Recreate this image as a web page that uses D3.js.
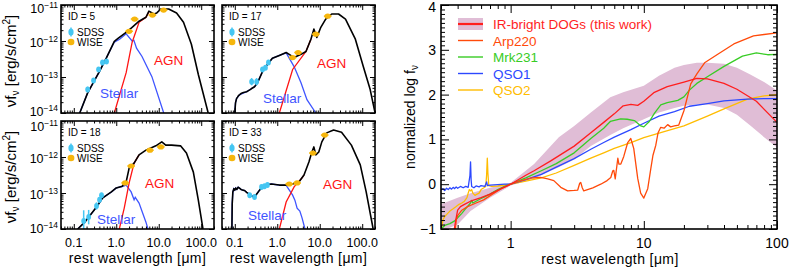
<!DOCTYPE html>
<html><head><meta charset="utf-8">
<script src="https://cdn.jsdelivr.net/npm/d3@7"></script>
<style>
body{margin:0;background:#fff;}
svg text{font-family:"Liberation Sans",Arial,Helvetica,sans-serif;}
</style></head><body>
<svg id="c" width="789" height="269"></svg>
<script>
// ---------------- DATA (left: [rest wavelength um, log10 nuFnu erg/s/cm2]) ----------------
const sed5Total   = [[0.138,-14.0],[0.212,-13.44],[0.40,-12.85],[0.59,-12.46],[0.90,-12.01],[1.1,-11.93],[1.71,-11.76],[2.36,-11.62],[3.44,-11.45],[5.0,-11.34],[5.87,-11.17],[7.7,-11.25],[9.0,-11.22],[11.2,-11.11],[17.1,-11.11],[26.3,-11.22],[38.3,-11.48],[58.7,-12.09],[85.5,-12.93],[146,-14.0]];
const sed5Stellar = [[0.138,-14.0],[0.212,-13.44],[0.40,-12.85],[0.59,-12.46],[0.90,-12.03],[1.2,-11.95],[1.71,-11.8],[2.36,-12.0],[2.6,-11.98],[3.0,-12.2],[4.04,-12.43],[6.9,-12.99],[13.1,-14.0]];
const sed5Agn     = [[0.90,-14.0],[1.71,-12.88],[2.36,-12.04],[3.44,-11.48],[5.0,-11.34],[5.87,-11.2]];
const sed5Sdss    = [[0.212,-13.35],[0.292,-13.1],[0.383,-12.79],[0.474,-12.6],[0.59,-12.57]];
const sed5SdssErr = [0.08,0.07,0.06,0.06,0.05];
const sed5Wise    = [[2.0,-11.73],[2.7,-11.39],[7.1,-11.28],[13.0,-11.14]];

const sed17Total   = [[0.100,-14.0],[0.104,-13.72],[0.11,-13.6],[0.116,-13.56],[0.122,-13.52],[0.131,-13.49],[0.14,-13.46],[0.16,-13.43],[0.19,-13.41],[0.21,-13.38],[0.23,-13.35],[0.249,-13.32],[0.292,-13.27],[0.343,-13.16],[0.449,-12.85],[0.587,-12.65],[0.767,-12.48],[1.12,-12.4],[1.62,-12.32],[1.91,-12.37],[2.49,-12.46],[3.62,-12.37],[4.74,-12.29],[6.2,-11.95],[7.27,-11.67],[8.55,-11.9],[10.6,-11.62],[13.8,-11.39],[19.1,-11.25],[27.7,-11.25],[40.4,-11.39],[69,-11.95],[106,-12.71],[154,-13.35],[201,-14.0]];
const sed17Stellar = [[0.100,-14.0],[0.104,-13.72],[0.11,-13.6],[0.131,-13.49],[0.19,-13.41],[0.249,-13.32],[0.292,-13.27],[0.343,-13.16],[0.449,-12.85],[0.587,-12.65],[0.767,-12.48],[1.12,-12.4],[1.62,-12.33],[2.49,-12.71],[3.62,-13.16],[5.0,-13.63],[8.1,-14.0]];
const sed17Agn     = [[1.12,-14.0],[2.3,-12.79],[4.74,-12.29],[6.2,-11.95]];
const sed17Sdss    = [[0.249,-13.13],[0.326,-13.13],[0.449,-12.79],[0.527,-12.74],[0.62,-12.6]];
const sed17SdssErr = [0.1,0.1,0.07,0.06,0.05];
const sed17Wise    = [[2.3,-12.46],[3.09,-12.32],[8.1,-11.81],[15.4,-11.31]];

const sed18Total   = [[0.124,-14.0],[0.181,-13.81],[0.343,-13.39],[0.474,-13.14],[0.767,-12.97],[1.0,-12.86],[1.38,-12.81],[1.71,-12.69],[2.01,-12.31],[2.63,-12.17],[3.44,-11.94],[5.0,-11.81],[8.55,-11.69],[11.8,-11.58],[14.6,-11.67],[20.1,-11.67],[32.6,-11.69],[44.9,-11.89],[65.3,-12.42],[85.5,-13.2],[110,-14.0]];
const sed18Stellar = [[0.124,-14.0],[0.181,-13.81],[0.343,-13.39],[0.474,-13.14],[0.767,-12.97],[1.0,-12.86],[1.38,-12.82],[1.71,-12.78],[2.24,-12.97],[2.63,-13.19],[2.8,-13.12],[3.44,-13.28],[5.0,-13.81],[5.57,-14.0]];
const sed18Agn     = [[1.18,-14.0],[1.54,-13.42],[2.01,-12.72],[2.63,-12.17],[3.44,-11.94]];
const sed18Sdss    = [[0.171,-13.78],[0.224,-13.67],[0.343,-13.36],[0.404,-13.19],[0.45,-13.06]];
const sed18SdssErr = [0.3,0.2,0.1,0.08,0.06];
const sed18Wise    = [[1.62,-12.72],[2.24,-12.25],[6.2,-11.81],[11.2,-11.72]];

const sed33Total   = [[0.0855,-14.0],[0.087,-13.3],[0.090,-12.97],[0.095,-12.88],[0.1,-12.92],[0.105,-12.86],[0.112,-12.9],[0.12,-12.84],[0.131,-12.87],[0.14,-12.9],[0.154,-12.92],[0.17,-12.93],[0.19,-12.98],[0.22,-13.04],[0.249,-13.08],[0.292,-13.11],[0.383,-12.92],[0.5,-12.78],[0.728,-12.75],[1.12,-12.78],[1.62,-12.78],[2.3,-12.75],[3.26,-12.69],[4.26,-12.5],[5.56,-12.14],[6.53,-11.86],[7.27,-11.72],[8.1,-11.94],[9.5,-11.86],[11.2,-11.58],[14.6,-11.33],[21.2,-11.25],[32.6,-11.31],[55.6,-11.67],[90,-12.22],[124,-12.97],[181,-14.0]];
const sed33Stellar = [[0.0855,-14.0],[0.087,-13.3],[0.090,-12.97],[0.095,-12.88],[0.1,-12.92],[0.105,-12.86],[0.112,-12.9],[0.12,-12.84],[0.131,-12.87],[0.14,-12.9],[0.154,-12.92],[0.17,-12.93],[0.19,-12.98],[0.22,-13.04],[0.249,-13.08],[0.292,-13.11],[0.383,-12.92],[0.5,-12.78],[0.728,-12.75],[1.12,-12.78],[1.62,-12.79],[2.3,-13.06],[2.6,-13.2],[2.93,-13.42],[3.4,-13.5],[3.83,-13.69],[4.49,-14.0]];
const sed33Agn     = [[1.12,-14.0],[1.62,-13.25],[2.49,-12.83],[3.83,-12.58],[4.26,-12.5]];
const sed33Sdss    = [[0.224,-13.06],[0.292,-13.11],[0.426,-12.83],[0.5,-12.81],[0.587,-12.78]];
const sed33SdssErr = [0.06,0.06,0.05,0.05,0.05];
const sed33Wise    = [[1.91,-12.75],[2.93,-12.72],[6.9,-11.89],[13.1,-11.39]];

const sedXTicks      = [0.1, 1, 10, 100];
const sedXTickLabels = ["0.1", "1.0", "10.0", "100.0"];
const sedYTicks      = [1e-11, 1e-12, 1e-13, 1e-14];
const sedYTickExp    = ["\u221211", "\u221212", "\u221213", "\u221214"];
const wiseHalfWidthDex = 0.09;

// ---------------- DATA (right: [rest wavelength um, normalized log f_nu]) ----------------
const dogMean = [[0.375,-1.05],[0.39,-0.75],[0.40,-0.58],[0.42,-0.5],[0.45,-0.45],[0.5,-0.38],[0.6,-0.3],[0.7,-0.22],[0.85,-0.1],[1,0],[1.3,0.2],[1.5,0.3],[2,0.52],[3,0.85],[4,1.15],[5,1.38],[6,1.57],[7,1.75],[8,1.78],[9,1.76],[10,1.85],[12,2.05],[15,2.18],[20,2.28],[25,2.36],[30,2.35],[40,2.25],[50,2.12],[70,1.85],[100,1.38]];
const dogBandLam  = [0.3,0.4,0.5,0.7,1.0,1.5,2,2.3,3,4,5.6,7,10,13,17,20,25,30,40,50,63,80,100];
const dogBandLow  = [-1.05,-0.9,-0.6,-0.3,-0.03,0.12,0.3,0.38,0.55,0.85,1.1,1.25,1.45,1.6,1.7,1.75,1.78,1.78,1.7,1.55,1.31,1.05,0.82];
const dogBandHigh = [-0.45,-0.3,-0.2,-0.08,0.03,0.45,0.85,1.05,1.3,1.6,1.94,2.05,2.2,2.42,2.6,2.66,2.71,2.71,2.69,2.6,2.45,2.28,2.09];
const arp220 = [[0.37,-1.3],[0.386,-0.98],[0.39,-0.8],[0.40,-0.7],[0.43,-0.58],[0.475,-0.5],[0.55,-0.42],[0.627,-0.35],[0.75,-0.2],[0.85,-0.1],[1.0,0],[1.2,0.08],[1.45,0.14],[1.68,0.15],[1.9,0.12],[2.11,0.08],[2.38,-0.07],[2.68,-0.15],[3.0,-0.14],[3.19,-0.13],[3.3,0.02],[3.36,0.04],[3.45,-0.08],[3.54,-0.15],[4.14,-0.08],[4.75,0.0],[5.3,0.08],[5.65,0.15],[5.85,0.3],[5.95,0.31],[6.1,0.12],[6.38,0.58],[6.5,0.45],[6.72,0.45],[7.07,0.62],[7.57,0.93],[7.98,1.02],[8.4,0.8],[9.0,0.13],[9.47,-0.2],[10,-0.31],[10.7,-0.1],[11.3,0.36],[11.7,0.64],[12.3,0.87],[12.8,1.15],[13.4,1.27],[14.2,1.25],[15.1,1.33],[15.9,1.28],[17,1.3],[18.3,1.32],[20,1.64],[22.5,2.24],[25.1,2.47],[28.6,2.71],[35.9,2.9],[47.4,3.13],[66.6,3.31],[100,3.38]];
const mrk231 = [[0.3,-1.0],[0.32,-0.92],[0.35,-0.88],[0.38,-0.82],[0.40,-0.75],[0.43,-0.65],[0.45,-0.58],[0.48,-0.48],[0.5,-0.42],[0.51,-0.36],[0.52,-0.42],[0.55,-0.38],[0.6,-0.32],[0.65,-0.27],[0.7,-0.22],[0.8,-0.12],[0.9,-0.05],[1,0],[1.3,0.14],[1.7,0.3],[2.2,0.46],[3,0.7],[4,1.02],[5,1.25],[5.6,1.4],[6.7,1.46],[7.5,1.45],[8.5,1.42],[9.5,1.3],[10,1.28],[11,1.4],[12,1.58],[13.4,1.77],[15,1.82],[18,1.87],[20,1.95],[22,2.1],[25,2.25],[30,2.4],[40,2.63],[55,2.86],[70,2.93],[85,2.89],[100,2.9]];
const qso1 = [[0.3,-0.13],[0.31,-0.1],[0.32,-0.14],[0.33,-0.09],[0.34,-0.12],[0.35,-0.08],[0.36,-0.11],[0.37,-0.07],[0.38,-0.1],[0.39,-0.06],[0.40,-0.09],[0.42,-0.05],[0.44,-0.08],[0.46,-0.05],[0.48,-0.07],[0.495,0.2],[0.50,0.5],[0.505,0.1],[0.51,-0.05],[0.53,-0.08],[0.55,-0.04],[0.58,-0.06],[0.6,-0.03],[0.64,-0.05],[0.66,0.05],[0.67,-0.03],[0.7,-0.02],[0.8,-0.01],[0.9,0.0],[1.0,0.0],[1.3,0.1],[1.7,0.22],[2.2,0.38],[3.0,0.57],[4.0,0.78],[5.0,0.93],[6.0,1.05],[8,1.22],[10,1.36],[13,1.52],[17,1.62],[22,1.74],[30,1.8],[40,1.86],[60,1.9],[80,1.91],[100,1.91]];
const qso2 = [[0.3,-1.05],[0.31,-0.8],[0.32,-0.72],[0.33,-0.68],[0.35,-0.6],[0.37,-0.55],[0.39,-0.5],[0.41,-0.45],[0.43,-0.42],[0.45,-0.38],[0.47,-0.3],[0.48,-0.2],[0.49,-0.12],[0.50,-0.15],[0.51,-0.12],[0.52,-0.2],[0.54,-0.25],[0.56,-0.22],[0.58,-0.2],[0.6,-0.12],[0.63,-0.08],[0.65,-0.05],[0.66,0.2],[0.668,0.58],[0.675,0.25],[0.685,-0.03],[0.72,-0.05],[0.8,-0.04],[0.9,-0.02],[1.0,0],[1.3,0.07],[1.7,0.14],[2.2,0.25],[3,0.42],[4,0.58],[5,0.7],[6,0.8],[8,0.93],[10,1.04],[14,1.17],[20,1.3],[30,1.52],[40,1.68],[60,1.9],[80,1.97],[100,2.0]];

const specXTicks = [1, 10, 100];
const specYTicks = [-1, 0, 1, 2, 3, 4];
const legendNames = ["IR-bright DOGs (this work)", "Arp220", "Mrk231", "QSO1", "QSO2"];

// ---------------- STYLE ----------------
const C = {stellar:"#3f55ff", agn:"#ff1414", sdss:"#45c6f2", wise:"#f6b60c",
           dog:"#ff1e1e", band:"#e0bdd6", arp:"#ff4a0a", mrk:"#38cc25", q1:"#2c48ff", q2:"#ffbc00"};
const svg = d3.select("#c");
svg.append("rect").attr("width",789).attr("height",269).attr("fill","#fff");

function logTicks(lo, hi){
  const maj=[], min=[];
  for(let e=Math.floor(Math.log10(lo)); e<=Math.ceil(Math.log10(hi)); e++){
    for(let m=1;m<10;m++){ const v=+(m*Math.pow(10,e)).toPrecision(6);
      if(v<lo*0.9999||v>hi*1.0001) continue; (m===1?maj:min).push(v); }
  }
  return {maj,min};
}
function styleAxis(a){ a.select(".domain").remove(); a.selectAll("line").attr("stroke","#000").attr("stroke-width",1); a.selectAll("text").remove(); return a; }

// ---------------- SED PANELS ----------------
const panels = [
  {id:"5",  tot:sed5Total,  st:sed5Stellar,  agn:sed5Agn,  sdss:sed5Sdss,  err:sed5SdssErr,  wise:sed5Wise,  x0:61,  x1:214, y0:5,   y1:113, left:true,  bottom:false, agnPos:[154,65],  stPos:[100,98]},
  {id:"17", tot:sed17Total, st:sed17Stellar, agn:sed17Agn, sdss:sed17Sdss, err:sed17SdssErr, wise:sed17Wise, x0:222, x1:375, y0:5,   y1:113, left:false, bottom:false, agnPos:[317,68],  stPos:[263,103]},
  {id:"18", tot:sed18Total, st:sed18Stellar, agn:sed18Agn, sdss:sed18Sdss, err:sed18SdssErr, wise:sed18Wise, x0:61,  x1:214, y0:121, y1:229, left:true,  bottom:true,  agnPos:[145,188], stPos:[97,224]},
  {id:"33", tot:sed33Total, st:sed33Stellar, agn:sed33Agn, sdss:sed33Sdss, err:sed33SdssErr, wise:sed33Wise, x0:222, x1:375, y0:121, y1:229, left:false, bottom:true,  agnPos:[323,189], stPos:[248,220]}
];
const sedXT = logTicks(0.05, 200), sedYT = logTicks(1e-14, 1e-11);

panels.forEach((p,i)=>{
  const x = d3.scaleLog().domain([0.05,200]).range([p.x0,p.x1]);
  const y = d3.scaleLog().domain([1e-14,1e-11]).range([p.y1,p.y0]);
  const g = svg.append("g");
  const cid = "clip"+i;
  g.append("clipPath").attr("id",cid).append("rect").attr("x",p.x0).attr("y",p.y0).attr("width",p.x1-p.x0).attr("height",p.y1-p.y0);
  const line = d3.line().x(d=>x(d[0])).y(d=>y(Math.pow(10,d[1])));
  const cg = g.append("g").attr("clip-path",`url(#${cid})`);
  cg.append("path").attr("d",line(p.st)).attr("fill","none").attr("stroke",C.stellar).attr("stroke-width",1.3);
  cg.append("path").attr("d",line(p.agn)).attr("fill","none").attr("stroke",C.agn).attr("stroke-width",1.3);
  cg.append("path").attr("d",line(p.tot)).attr("fill","none").attr("stroke","#000").attr("stroke-width",1.6).attr("stroke-linejoin","round");
  p.sdss.forEach((d,k)=>{
    const e = p.err[k];
    cg.append("line").attr("x1",x(d[0])).attr("x2",x(d[0])).attr("y1",y(Math.pow(10,d[1]-e))).attr("y2",y(Math.pow(10,d[1]+e))).attr("stroke",C.sdss).attr("stroke-width",1.5);
    cg.append("ellipse").attr("cx",x(d[0])).attr("cy",y(Math.pow(10,d[1]))).attr("rx",2.4).attr("ry",3).attr("fill",C.sdss);
  });
  p.wise.forEach(d=>{
    cg.append("line").attr("x1",x(d[0]*Math.pow(10,-wiseHalfWidthDex))).attr("x2",x(d[0]*Math.pow(10,wiseHalfWidthDex))).attr("y1",y(Math.pow(10,d[1]))).attr("y2",y(Math.pow(10,d[1]))).attr("stroke",C.wise).attr("stroke-width",1.5);
    cg.append("ellipse").attr("cx",x(d[0])).attr("cy",y(Math.pow(10,d[1]))).attr("rx",3.2).attr("ry",2.6).attr("fill",C.wise);
  });
  styleAxis(g.append("g").attr("transform",`translate(0,${p.y1})`).call(d3.axisBottom(x).tickValues(sedXT.maj).tickSize(-5).tickSizeOuter(0)));
  styleAxis(g.append("g").attr("transform",`translate(0,${p.y1})`).call(d3.axisBottom(x).tickValues(sedXT.min).tickSize(-2.5).tickSizeOuter(0)));
  styleAxis(g.append("g").attr("transform",`translate(0,${p.y0})`).call(d3.axisTop(x).tickValues(sedXT.maj).tickSize(-5).tickSizeOuter(0)));
  styleAxis(g.append("g").attr("transform",`translate(0,${p.y0})`).call(d3.axisTop(x).tickValues(sedXT.min).tickSize(-2.5).tickSizeOuter(0)));
  styleAxis(g.append("g").attr("transform",`translate(${p.x0},0)`).call(d3.axisLeft(y).tickValues(sedYT.maj).tickSize(-5).tickSizeOuter(0)));
  styleAxis(g.append("g").attr("transform",`translate(${p.x0},0)`).call(d3.axisLeft(y).tickValues(sedYT.min).tickSize(-2.5).tickSizeOuter(0)));
  styleAxis(g.append("g").attr("transform",`translate(${p.x1},0)`).call(d3.axisRight(y).tickValues(sedYT.maj).tickSize(-5).tickSizeOuter(0)));
  styleAxis(g.append("g").attr("transform",`translate(${p.x1},0)`).call(d3.axisRight(y).tickValues(sedYT.min).tickSize(-2.5).tickSizeOuter(0)));
  g.append("rect").attr("x",p.x0).attr("y",p.y0).attr("width",p.x1-p.x0).attr("height",p.y1-p.y0).attr("fill","none").attr("stroke","#000").attr("stroke-width",1.6);
  if(p.bottom){
    sedXTicks.forEach((v,k)=>{
      g.append("text").attr("x",x(v)).attr("y",p.y1+18).attr("text-anchor","middle").attr("font-size",12.5).text(sedXTickLabels[k]);
    });
    g.append("text").attr("x",(p.x0+p.x1)/2).attr("y",263).attr("text-anchor","middle").attr("font-size",14).attr("letter-spacing",0.4)
      .text("rest wavelength [\u03bcm]");
  }
  if(p.left){
    sedYTicks.forEach((v,k)=>{
      let off = 5.5;
      if(k===0) off = p.y0<50 ? 8 : 9.5;
      if(k===3) off = p.y1>200 ? 4 : 3;
      const t = g.append("text").attr("x",p.x0-3).attr("y",y(v)+off).attr("text-anchor","end").attr("font-size",12.5);
      t.append("tspan").text("10");
      t.append("tspan").attr("font-size",8.5).attr("dy",-5).text(sedYTickExp[k]);
    });
    const yt = g.append("text").attr("transform",`translate(16,${(p.y0+p.y1)/2+2}) rotate(-90)`).attr("text-anchor","middle").attr("font-size",15);
    yt.append("tspan").text("\u03bdf");
    yt.append("tspan").attr("font-size",10).attr("dy",3).text("\u03bd");
    yt.append("tspan").attr("dy",-3).text(" [erg/s/cm");
    yt.append("tspan").attr("font-size",10).attr("dy",-6).text("2");
    yt.append("tspan").attr("dy",6).text("]");
  }
  g.append("text").attr("x",p.x0+7).attr("y",p.y0+15).attr("font-size",10).text("ID = "+p.id);
  g.append("ellipse").attr("cx",p.x0+10).attr("cy",p.y0+27).attr("rx",2.6).attr("ry",3.6).attr("fill",C.sdss);
  g.append("line").attr("x1",p.x0+10).attr("x2",p.x0+10).attr("y1",p.y0+22.5).attr("y2",p.y0+31.5).attr("stroke",C.sdss).attr("stroke-width",1.4);
  g.append("text").attr("x",p.x0+16).attr("y",p.y0+31).attr("font-size",10).text("SDSS");
  g.append("ellipse").attr("cx",p.x0+10).attr("cy",p.y0+37).attr("rx",3.4).attr("ry",3.2).attr("fill",C.wise);
  g.append("text").attr("x",p.x0+16).attr("y",p.y0+41).attr("font-size",10).text("WISE");
  g.append("text").attr("x",p.agnPos[0]).attr("y",p.agnPos[1]).attr("font-size",13.5).attr("fill",C.agn).text("AGN");
  g.append("text").attr("x",p.stPos[0]).attr("y",p.stPos[1]).attr("font-size",13.5).attr("fill",C.stellar).text("Stellar");
});

// ---------------- RIGHT PANEL ----------------
(function(){
  const X0=441, X1=777, Y0=5, Y1=229;
  const x = d3.scaleLog().domain([0.3,100]).range([X0,X1]);
  const y = d3.scaleLinear().domain([-1,4]).range([Y1,Y0]);
  const g = svg.append("g");
  g.append("clipPath").attr("id","clipR").append("rect").attr("x",X0).attr("y",Y0).attr("width",X1-X0).attr("height",Y1-Y0);
  const cg = g.append("g").attr("clip-path","url(#clipR)");
  const band = dogBandLam.map((l,k)=>({l, lo:dogBandLow[k], hi:dogBandHigh[k]}));
  cg.append("path").attr("d", d3.area().x(d=>x(d.l)).y0(d=>y(d.lo)).y1(d=>y(d.hi))(band)).attr("fill",C.band);
  const line = d3.line().x(d=>x(d[0])).y(d=>y(d[1]));
  [[qso2,C.q2],[qso1,C.q1],[mrk231,C.mrk],[arp220,C.arp],[dogMean,C.dog]].forEach(([data,col])=>{
    cg.append("path").attr("d",line(data)).attr("fill","none").attr("stroke",col).attr("stroke-width",1.3).attr("stroke-linejoin","round");
  });
  const xt = logTicks(0.3,100);
  const yMinor = d3.range(-1,4.001,0.1).map(v=>+v.toFixed(2)).filter(v=>Math.abs(v-Math.round(v))>1e-6);
  styleAxis(g.append("g").attr("transform",`translate(0,${Y1})`).call(d3.axisBottom(x).tickValues(xt.maj).tickSize(-8).tickSizeOuter(0)));
  styleAxis(g.append("g").attr("transform",`translate(0,${Y1})`).call(d3.axisBottom(x).tickValues(xt.min).tickSize(-4).tickSizeOuter(0)));
  styleAxis(g.append("g").attr("transform",`translate(0,${Y0})`).call(d3.axisTop(x).tickValues(xt.maj).tickSize(-8).tickSizeOuter(0)));
  styleAxis(g.append("g").attr("transform",`translate(0,${Y0})`).call(d3.axisTop(x).tickValues(xt.min).tickSize(-4).tickSizeOuter(0)));
  styleAxis(g.append("g").attr("transform",`translate(${X0},0)`).call(d3.axisLeft(y).tickValues(specYTicks).tickSize(-8).tickSizeOuter(0)));
  styleAxis(g.append("g").attr("transform",`translate(${X0},0)`).call(d3.axisLeft(y).tickValues(yMinor).tickSize(-4).tickSizeOuter(0)));
  styleAxis(g.append("g").attr("transform",`translate(${X1},0)`).call(d3.axisRight(y).tickValues(specYTicks).tickSize(-8).tickSizeOuter(0)));
  styleAxis(g.append("g").attr("transform",`translate(${X1},0)`).call(d3.axisRight(y).tickValues(yMinor).tickSize(-4).tickSizeOuter(0)));
  g.append("rect").attr("x",X0).attr("y",Y0).attr("width",X1-X0).attr("height",Y1-Y0).attr("fill","none").attr("stroke","#000").attr("stroke-width",1.6);
  specXTicks.forEach(v=>g.append("text").attr("x",x(v)).attr("y",Y1+19).attr("text-anchor","middle").attr("font-size",14).text(String(v)));
  specYTicks.forEach(v=>g.append("text").attr("x",X0-5).attr("y",y(v)+(v===4?7:5)).attr("text-anchor","end").attr("font-size",14).text(v<0?"\u2212"+Math.abs(v):String(v)));
  g.append("text").attr("x",(X0+X1)/2+1).attr("y",264).attr("text-anchor","middle").attr("font-size",14).attr("letter-spacing",0.4).text("rest wavelength [\u03bcm]");
  const yt = g.append("text").attr("transform",`translate(415,117) rotate(-90)`).attr("text-anchor","middle").attr("font-size",14);
  yt.append("tspan").text("normalized log f");
  yt.append("tspan").attr("font-size",10).attr("dy",3).text("\u03bd");
  const rows = [24,40.5,57,73.5,90];
  const cols = [C.dog,C.arp,C.mrk,C.q1,C.q2];
  g.append("rect").attr("x",458).attr("y",rows[0]-6).attr("width",25).attr("height",12).attr("fill",C.band);
  legendNames.forEach((n,k)=>{
    g.append("line").attr("x1",458).attr("x2",483).attr("y1",rows[k]).attr("y2",rows[k]).attr("stroke",cols[k]).attr("stroke-width",k===0?2.2:1.4);
    g.append("text").attr("x",493).attr("y",rows[k]+5).attr("font-size",13.5).attr("fill",cols[k]).text(n);
  });
})();
</script>
</body></html>
